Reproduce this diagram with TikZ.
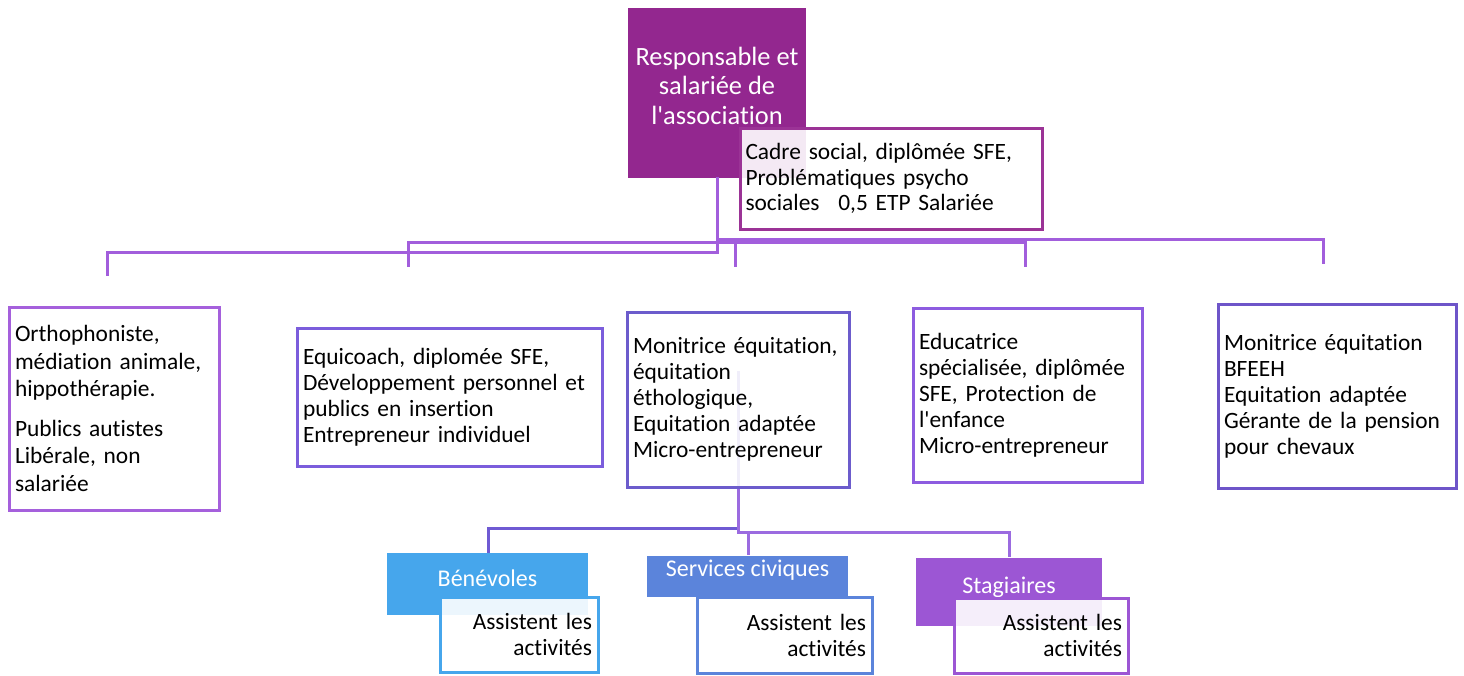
\documentclass[tikz,border=0pt]{standalone}
\usepackage{fontspec}
\setmainfont{Carlito}[Ligatures={NoCommon}]
\definecolor{topfill}{HTML}{93278F}
\definecolor{cadreline}{HTML}{9B3396}
\definecolor{connA}{HTML}{A25EDC}
\definecolor{connB}{HTML}{6F5AD3}
\definecolor{connC}{HTML}{9B6BE0}
\definecolor{bA}{HTML}{A560DC}
\definecolor{bB}{HTML}{7B5DDC}
\definecolor{bC}{HTML}{6C5CCC}
\definecolor{bD}{HTML}{8D5CE0}
\definecolor{bE}{HTML}{6E55C9}
\definecolor{hA}{HTML}{46A6EC}
\definecolor{hB}{HTML}{5B84DB}
\definecolor{hC}{HTML}{9C56D4}
\tikzset{
  conn/.style={line width=3pt, line cap=rect},
  box/.style={draw, line width=3pt, fill=white, fill opacity=0.9, text opacity=1,
    inner xsep=6pt, inner ysep=0pt, align=left, text=black,
    font=\fontsize{23.4}{26}\selectfont},
  hdr/.style={draw=none, inner sep=0pt, text=white},
  hdrtext/.style={text=white, font=\fontsize{24}{26}\selectfont},
  abox/.style={draw, line width=3pt, fill=white, fill opacity=0.9, text opacity=1,
    inner xsep=6pt, inner ysep=0pt, align=right, text=black,
    font=\fontsize{23.4}{26}\selectfont},
}
\begin{document}
\begin{tikzpicture}[x=1pt,y=-1pt]
\useasboundingbox (0,0) rectangle (1464,675);

% free ends of the connectors
\coordinate (e1) at (107,274);
\coordinate (e2) at (408,265);
\coordinate (e3) at (735,265);
\coordinate (e4) at (1025,265);
\coordinate (e5) at (1323,262);
\coordinate (f1) at (488,551);
\coordinate (f2) at (748,553);
\coordinate (f3) at (1009,555);

% top box
\node[fill=topfill, minimum width=178pt, minimum height=170pt, inner sep=0pt,
  label={[yshift=7.5pt, text=white, align=center, font=\fontsize{26.4}{29.5}\selectfont]center:{Responsable et\\salariée de\\l\textquotesingle association}}]
  (top) at (717,93) {};

% connectors from top
\draw[conn, connA] (top.south) -- ++(0,74) -| (e1);
\draw[conn, connA] (top.south) ++(0,61) -| (e5);
\draw[conn, connA] (top.south) -- ++(0,61);
\draw[conn, connA] (top.south) ++(0,64) -| (e2);
\draw[conn, connA] (top.south) ++(0,64) -| (e4);
\draw[conn, connA] (top.south) ++(0,64) -| (e3);

% cadre box
\node[box, draw=cadreline, minimum width=302pt, minimum height=101pt, text width=291pt, inner xsep=5pt,
  font=\fontsize{23.4}{25.5}\selectfont] (cadre) at (891,178.5)
  {Cadre social, diplômée SFE,\\Problématiques psycho\\sociales\hspace{0.8em}0,5 ETP Salariée};

% bottom connectors (drawn before box 3 so it shows faintly through)
\coordinate (b3s) at (738,487);
\draw[conn, connB] ([yshift=115pt]b3s) -- (b3s) -- ++(0,41) -| (f1);
\draw[conn, connC] (b3s) -- ++(0,45) -| (f3);
\draw[conn, connC] (b3s) ++(0,45) -| (f2);

% level-2 boxes
\node[box, draw=bA, minimum width=210pt, minimum height=203pt, text width=198pt,
  font=\fontsize{23.4}{27.5}\selectfont] (b1) at (114,408.5)
  {Orthophoniste,\\médiation animale,\\hippothérapie.\\[12pt]Publics autistes\\Libérale, non\\salariée};
\node[box, draw=bB, minimum width=305pt, minimum height=138pt, text width=293pt] (b2) at (449.5,397)
  {Equicoach, diplomée SFE,\\Développement personnel et\\publics en insertion\\Entrepreneur individuel};
\node[box, draw=bC, minimum width=222pt, minimum height=175pt, text width=210pt] (b3) at (738,399.5)
  {Monitrice équitation,\\équitation\\éthologique,\\Equitation adaptée\\Micro-entrepreneur};
\node[box, draw=bD, minimum width=229pt, minimum height=174pt, text width=217pt] (b4) at (1027.5,395)
  {Educatrice\\spécialisée, diplômée\\SFE, Protection de\\l\textquotesingle enfance\\Micro-entrepreneur};
\node[box, draw=bE, minimum width=238pt, minimum height=184pt, text width=226pt] (b5) at (1337,396)
  {Monitrice équitation\\BFEEH\\Equitation adaptée\\Gérante de la pension\\pour chevaux};

% bottom groups
\node[hdr, fill=hA, minimum width=201pt, minimum height=62pt,
  label={[yshift=6pt, hdrtext]center:Bénévoles}] (h1) at (487.5,584) {};
\node[abox, draw=hA, minimum width=158pt, minimum height=75pt, text width=146pt] (a1) at (519,634.5)
  {Assistent les\\activités};
\node[hdr, fill=hB, minimum width=201pt, minimum height=41pt,
  label={[yshift=6pt, hdrtext]center:Services civiques}] (h2) at (747.5,576.5) {};
\node[abox, draw=hB, minimum width=175pt, minimum height=76pt, text width=163pt] (a2) at (784.5,635)
  {Assistent les\\activités};
\node[hdr, fill=hC, minimum width=186pt, minimum height=68pt,
  label={[yshift=5pt, hdrtext]center:Stagiaires}] (h3) at (1009,592) {};
\node[abox, draw=hC, minimum width=174pt, minimum height=75pt, text width=162pt] (a3) at (1041,635.5)
  {Assistent les\\activités};
\end{tikzpicture}
\end{document}
